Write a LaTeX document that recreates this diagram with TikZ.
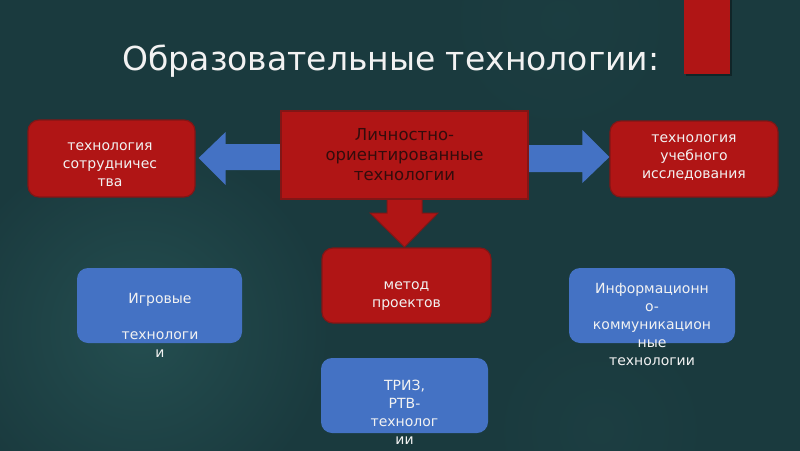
\documentclass[tikz,border=0pt]{standalone}
\usepackage{fontspec}
\setmainfont{DejaVu Sans}
\usetikzlibrary{calc}
\definecolor{bg}{RGB}{26,58,62}
\definecolor{bglight}{RGB}{36,78,80}
\definecolor{rd}{RGB}{176,21,21}
\definecolor{rdb}{RGB}{130,22,22}
\definecolor{bl}{RGB}{68,114,196}
\definecolor{txt}{RGB}{242,242,242}
\definecolor{dtxt}{RGB}{52,12,12}
\begin{document}
\begin{tikzpicture}[x=1pt,y=-1pt,
  redbox/.style={draw=rdb, line width=1.2pt, fill=rd, rounded corners=11pt, inner sep=0pt},
  bluebox/.style={fill=bl, rounded corners=11pt, inner sep=0pt},
  boxtext/.style={text=txt, align=center, inner sep=0pt, font=\fontsize{14}{18}\selectfont},
  bluearrow/.style={fill=bl},
  redarrow/.style={fill=rd, draw=rdb, line width=1pt, line join=miter}]
\useasboundingbox (0,0) rectangle (800,450);
\fill[bg] (-10,-10) rectangle (810,460);
\begin{scope}
\clip (-10,-10) rectangle (810,460);
\shade[inner color=bglight, outer color=bg] (140,330) circle (190pt);
\shade[inner color=bg!85!bglight, outer color=bg] (560,20) circle (120pt);
\shade[inner color=bg!80!bglight, outer color=bg] (600,430) circle (110pt);
\end{scope}
% red bar
\fill[black, opacity=0.35] (686,-5) rectangle (732,76);
\fill[rd] (684,-5) rectangle (730,74);
% title
\node[text=txt, anchor=base, inner sep=0pt, font=\fontsize{33}{40}\selectfont] (title) at (391,70) {Образовательные технологии:};
% boxes
\node[redbox, minimum width=167pt, minimum height=77pt] (coop) at (111.5,158.5) {};
\node[redbox, minimum width=168pt, minimum height=76pt] (res) at (694,159) {};
\node[redbox, minimum width=169pt, minimum height=75pt] (meth) at (406.5,285.5) {};
\node[bluebox, minimum width=165pt, minimum height=75pt] (igr) at (159.5,305.5) {};
\node[bluebox, minimum width=167pt, minimum height=75pt] (triz) at (404.5,395.5) {};
\node[bluebox, minimum width=166pt, minimum height=75pt] (info) at (652,305.5) {};
% arrows
\coordinate (lw) at (281,155);
\coordinate (le) at (528,155);
\coordinate (ls) at (404.5,199);
\fill[bluearrow] ($(lw)+(2,-11)$) -- ($(coop.east |- lw)+(30,-11)$) -- ($(coop.east |- lw)+(30,-23)$) -- ($(coop.east |- lw)+(3,3)$) -- ($(coop.east |- lw)+(30,30)$) -- ($(coop.east |- lw)+(30,15)$) -- ($(lw)+(2,15)$) -- cycle;
\fill[bluearrow] ($(le)+(-2,-10)$) -- ($(res.west |- le)+(-27,-10)$) -- ($(res.west |- le)+(-27,-25)$) -- ($(res.west |- le)+(0,2)$) -- ($(res.west |- le)+(-27,28)$) -- ($(res.west |- le)+(-27,17)$) -- ($(le)+(-2,17)$) -- cycle;
\draw[redarrow] ($(ls)+(-17.5,-2)$) -- ($(ls)+(-17.5,14)$) -- ($(ls)+(-34.5,14)$) -- ($(ls)+(0,48)$) -- ($(ls)+(33.5,14)$) -- ($(ls)+(17.5,14)$) -- ($(ls)+(17.5,-2)$);
% center box
\node[draw=rdb, line width=1.2pt, fill=rd, minimum width=247pt, minimum height=88pt, inner sep=0pt] (lor) at (404.5,155) {};
\node[text=dtxt, align=center, inner sep=0pt, font=\fontsize{16.5}{20}\selectfont] (lorT) at (lor) {Личностно-\\ориентированные\\технологии};
% texts
\node[boxtext] (coopT) at (110,164.5) {технология\\сотрудничес\\тва};
\node[boxtext] (resT) at (694,157.5) {технология\\учебного\\исследования};
\node[boxtext] (methT) at (406.5,296.5) {метод\\проектов};
\node[boxtext] (igrT) at (160,325.5) {Игровые\\\mbox{}\\технологи\\и};
\node[boxtext] (trizT) at (404.5,412.5) {ТРИЗ,\\РТВ-\\технолог\\ии};
\node[boxtext] (infoT) at (652,324) {Информационн\\о-\\коммуникацион\\ные\\технологии};
\end{tikzpicture}
\end{document}
